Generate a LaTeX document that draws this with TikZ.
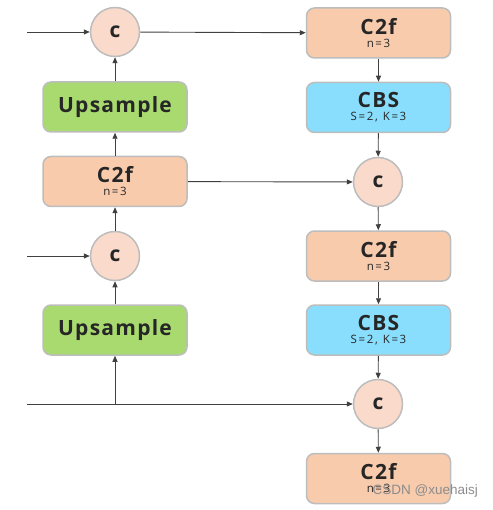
\documentclass[tikz,border=0pt]{standalone}
\usepackage{fontspec}
\setmainfont{Open Sans}
\newfontfamily\markfont{Liberation Sans}
\usetikzlibrary{arrows.meta}
\definecolor{cfpeach}{HTML}{F8CBAD}
\definecolor{catpeach}{HTML}{F9DACB}
\definecolor{upgreen}{HTML}{A8DA6F}
\definecolor{cbsblue}{HTML}{88DEFC}
\definecolor{rimgray}{HTML}{BDBDBD}
\definecolor{wiregray}{HTML}{404040}
\newcommand{\titlefont}{\fontsize{21}{22}\selectfont\bfseries\addfontfeature{LetterSpace=6}}
\newcommand{\subfont}{\fontsize{11.5}{12}\selectfont\mdseries\addfontfeature{LetterSpace=14}}

\begin{document}
\begin{tikzpicture}[x=1pt,y=-1pt,
    block/.style={draw=rimgray,line width=1.5pt,rounded corners=8pt,minimum width=144pt,minimum height=50pt,
        inner sep=0pt,align=center,font=\titlefont,text=black!85},
    cfbox/.style={block,fill=cfpeach},
    upbox/.style={block,fill=upgreen},
    cbsbox/.style={block,fill=cbsblue},
    cat/.style={circle,draw=rimgray,line width=1.5pt,fill=catpeach,minimum size=49pt,inner sep=0pt,font=\titlefont,text=black!85},
    wire/.style={draw=wiregray,line width=0.9pt},
    arr/.style={wire,-{Triangle[length=6pt,width=5pt]}}]
        \useasboundingbox (0,0) rectangle (492,510);

        % left column
        \node[cat] (c1) at (115,32) {c};
        \node[upbox] (up1) at (115,107) {Upsample};
        \node[cfbox] (cf1) at (115,181.5) {C2f\\[-9pt]\subfont n=3};
        \node[cat] (c2) at (115,256) {c};
        \node[upbox] (up2) at (115,330) {Upsample};

        % right column
        \node[cfbox] (cf2) at (378.5,33) {C2f\\[-9pt]\subfont n=3};
        \node[cbsbox] (cbs1) at (378.5,107.5) {CBS\\[-9pt]\subfont S=2,\hspace{5pt}K=3};
        \node[cat] (c3) at (378,182) {c};
        \node[cfbox] (cf3) at (378.5,256) {C2f\\[-9pt]\subfont n=3};
        \node[cbsbox] (cbs2) at (378.5,330) {CBS\\[-9pt]\subfont S=2,\hspace{5pt}K=3};
        \node[cat] (c4) at (378,404) {c};
        \node[cfbox] (cf4) at (378.5,478.5) {C2f\\[-9pt]\subfont n=3};

        \coordinate (in1) at (27,32);
        \coordinate (in2) at (27,256);
        \coordinate (in3) at (27,404);
        \coordinate (fork) at (115,404);

        \draw[arr] (in1) -- (c1);
        \draw[arr] (in2) -- (c2);
        \draw[arr] (in3) -- (c4);
        \draw[arr] (fork) -- (up2);
        \draw[arr] (up2) -- (c2);
        \draw[arr] (c2) -- (cf1);
        \draw[arr] (cf1) -- (up1);
        \draw[arr] (up1) -- (c1);
        \draw[arr] (c1) -- (cf2);
        \draw[arr] (cf1) -- (c3);
        \draw[arr] (cf2) -- (cbs1);
        \draw[arr] (cbs1) -- (c3);
        \draw[arr] (c3) -- (cf3);
        \draw[arr] (cf3) -- (cbs2);
        \draw[arr] (cbs2) -- (c4);
        \draw[arr] (c4) -- (cf4);

        \node[font=\fontsize{13.5}{14}\selectfont\markfont,text=black!45,anchor=south east,inner sep=0pt] (mark) at (478,497) {CSDN @xuehaisj};
\end{tikzpicture}
\end{document}
